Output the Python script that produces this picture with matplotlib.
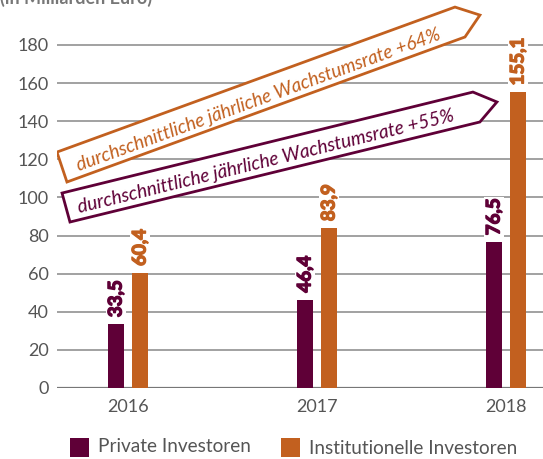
import matplotlib
matplotlib.use("Agg")
import matplotlib.pyplot as plt
import matplotlib.patheffects as pe
from matplotlib.patches import Polygon
import numpy as np

# data
years = ["2016", "2017", "2018"]
private = [33.5, 46.4, 76.5]
institutional = [60.4, 83.9, 155.1]
private_labels = ["33,5", "46,4", "76,5"]
institutional_labels = ["60,4", "83,9", "155,1"]
yticks = [0, 20, 40, 60, 80, 100, 120, 140, 160, 180]

PURPLE = "#5f0037"
ORANGE = "#c2601f"
GREY = "#555555"

plt.rcParams["font.family"] = ["Lato", "DejaVu Sans"]

fig = plt.figure(figsize=(5.43, 4.59), dpi=100)
ax = fig.add_axes([57 / 543, 71 / 459, 486 / 543, 388 / 459])

x = np.arange(len(years))
off = 12 / 189
w = 16 / 189

ax.bar(x - off, private, width=w, color=PURPLE, zorder=3)
ax.bar(x + off, institutional, width=w, color=ORANGE, zorder=3)

# value labels, rotated, with white background
for i in range(len(years)):
    for xs, val, lab, col in [(x[i] - off, private[i], private_labels[i], PURPLE),
                              (x[i] + off, institutional[i], institutional_labels[i], ORANGE)]:
        t = ax.annotate(lab, (xs, val), xytext=(0, 5), textcoords="offset points",
                        rotation=90, ha="center", va="bottom", fontsize=13.5,
                        fontweight="bold", color=col, zorder=4,
                        bbox=dict(boxstyle="square,pad=0.1", fc="white", ec="none"))
        t.set_path_effects([pe.withStroke(linewidth=1.0, foreground=col)])

# gridlines
for t in yticks[1:]:
    ax.axhline(t, color="#9a9a9a", lw=1.3, zorder=1)
ax.axhline(0, color="#777777", lw=1.6, zorder=2)

ax.set_xlim(-(128 - 57) / 189, 2 + (543 - 506) / 189)
ax.set_ylim(0, 388 / 1.9056)
ax.set_yticks(yticks)
ax.set_xticks(x)
ax.set_xticklabels(years)
ax.tick_params(axis="both", length=0, labelsize=13, colors=GREY)
ax.tick_params(axis="x", pad=8)
ax.tick_params(axis="y", pad=6)
for s in ax.spines.values():
    s.set_visible(False)

# growth arrows
orange_arrow = [(-0.376, 123.8), (1.730, 199.9), (1.862, 195.7), (1.783, 184.2), (-0.323, 108.1)]
purple_arrow = [(-0.349, 102.3), (1.825, 155.3), (1.952, 150.1), (1.862, 139.6), (-0.307, 87.1)]
ax.add_patch(Polygon(orange_arrow, closed=True, fc="white", ec=ORANGE, lw=2, zorder=5))
ax.add_patch(Polygon(purple_arrow, closed=True, fc="white", ec=PURPLE, lw=2, zorder=5))
ax.text(0.688, 151.1, "durchschnittliche jährliche Wachstumsrate +64%", rotation=20,
        rotation_mode="anchor", ha="center", va="center", fontsize=13.6,
        style="italic", color=ORANGE, zorder=6)
ax.text(0.730, 118.6, "durchschnittliche jährliche Wachstumsrate +55%", rotation=13.8,
        rotation_mode="anchor", ha="center", va="center", fontsize=13.6,
        style="italic", color=PURPLE, zorder=6)

# title, cut at the top edge as in the original
fig.text(0.0, 1 - 3.5 / 459, "(in Milliarden Euro)", ha="left", va="baseline",
         fontsize=13, fontweight="bold", color="#777777")

# legend
fig.patches.append(plt.Rectangle((70 / 543, 1 - 457 / 459), 19 / 543, 19 / 459,
                                 transform=fig.transFigure, fc=PURPLE, ec="none"))
fig.text(98 / 543, 1 - 447 / 459, "Private Investoren", ha="left", va="center",
         fontsize=13.7, color=GREY)
fig.patches.append(plt.Rectangle((281 / 543, 1 - 457 / 459), 19 / 543, 19 / 459,
                                 transform=fig.transFigure, fc=ORANGE, ec="none"))
fig.text(309 / 543, 1 - 449 / 459, "Institutionelle Investoren", ha="left", va="center",
         fontsize=13.7, color=GREY)

fig.savefig("out.png", dpi=100)
